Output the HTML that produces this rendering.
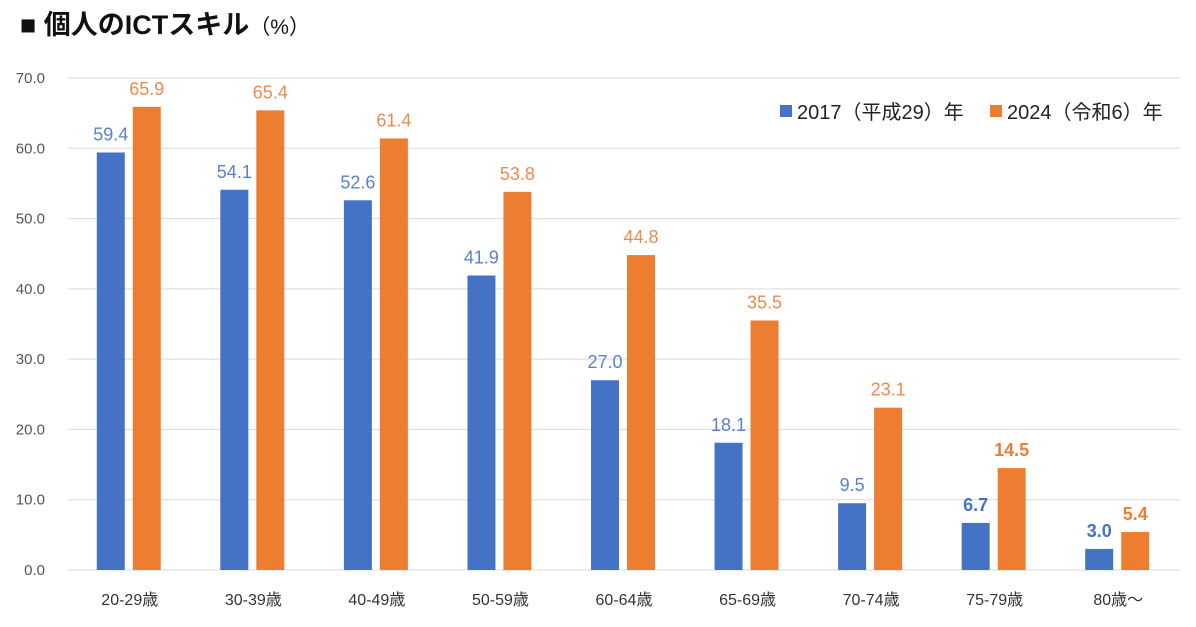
<!DOCTYPE html>
<html><head><meta charset="utf-8"><style>
body{margin:0;background:#fff;}
svg text{font-family:"Liberation Sans","Noto Sans CJK JP",sans-serif;}
</style></head><body>
<svg id="chart" width="1196" height="622">
<text x="20" y="34" font-size="27" font-weight="bold" fill="#111">■ 個人のICTスキル<tspan font-size="21" font-weight="normal">（%）</tspan></text>
<g id="grid"></g><g id="bars"></g>
<g>
<rect x="780" y="105" width="12" height="12" fill="#4472C4"/>
<text x="797" y="119" font-size="20" fill="#222">2017（平成29）年</text>
<rect x="990" y="105" width="12" height="12" fill="#ED7D31"/>
<text x="1007" y="119" font-size="20" fill="#222">2024（令和6）年</text>
</g>
</svg>
<script>
const categories=["20-29歳","30-39歳","40-49歳","50-59歳","60-64歳","65-69歳","70-74歳","75-79歳","80歳～"];
const s2017=[59.4,54.1,52.6,41.9,27.0,18.1,9.5,6.7,3.0];
const s2024=[65.9,65.4,61.4,53.8,44.8,35.5,23.1,14.5,5.4];
const ticks=[0,10,20,30,40,50,60,70];
const NS="http://www.w3.org/2000/svg";
const x0=68,x1=1180,y0=570,yTop=78,ymax=70;
const y=v=>y0-(v/ymax)*(y0-yTop);
const bw=(x1-x0)/categories.length;
const cx=i=>x0+bw*(i+0.5);
function mk(tag,attrs,parent,txt){const e=document.createElementNS(NS,tag);for(const k in attrs)e.setAttribute(k,attrs[k]);if(txt!==undefined)e.textContent=txt;parent.appendChild(e);return e;}
const grid=document.getElementById('grid'),bars=document.getElementById('bars');
ticks.forEach(t=>{
 const l=mk('line',{x1:x0,x2:x1,y1:y(t),y2:y(t),stroke:'#d9d9d9','stroke-width':1},grid);
 
 
 const tx=mk('text',{x:45,y:y(t)+5,'text-anchor':'end','font-size':15,fill:'#555'},grid,t.toFixed(1));
 
 
});
categories.forEach((c,i)=>{
 const bold=i>=7;
 [[s2017[i],'#4472C4',-1],[s2024[i],'#ED7D31',1]].forEach(([v,col,side],k)=>{
  const bx=side<0?cx(i)-33:cx(i)+3;
  const r=mk('rect',{x:bx,y:y(v),width:28,height:y0-y(v),fill:col},bars);
  
  
  const t=mk('text',{x:bx+14,y:y(v)-12,'text-anchor':'middle','font-size':18,fill:k?(bold?'#ED7D31':'#EE8A4C'):(bold?'#4472C4':'#5A82C8'),'font-weight':bold?'bold':'normal'},bars,v.toFixed(1));
  
  
 });
 const xl=mk('text',{x:cx(i),y:605,'text-anchor':'middle','font-size':16,fill:'#333'},bars,c);
 
 
});
</script>
</body></html>
